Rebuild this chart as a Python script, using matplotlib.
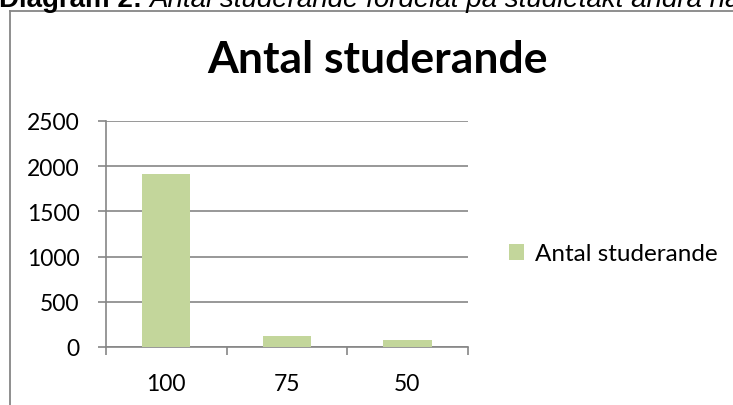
import matplotlib
matplotlib.use("Agg")
import matplotlib.pyplot as plt
from matplotlib.lines import Line2D
from matplotlib.patches import Patch

categories = ["100", "75", "50"]
values = [1910, 122, 77]
yticks = [0, 500, 1000, 1500, 2000, 2500]
title = "Antal studerande"
series_name = "Antal studerande"
header_bold = "Diagram 2:"
header_italic = "Antal studerande fördelat på studietakt andra halvåret"

W, H = 733, 406
fig = plt.figure(figsize=(W / 100, H / 100), dpi=100)
fig.patch.set_facecolor("white")

gray = "#868686"
green = "#c3d69b"
font = ["Lato", "DejaVu Sans"]

# chart area border (top and left visible)
fig.add_artist(Line2D([10 / W, 1.0], [1 - 12 / H, 1 - 12 / H], color=gray, lw=1.3, transform=fig.transFigure))
fig.add_artist(Line2D([10 / W, 10 / W], [0, 1 - 12 / H], color=gray, lw=1.3, transform=fig.transFigure))

# header text (clipped at top, as in the source)
base_y = 1 - 7 / H
t1 = fig.text(-1 / W, base_y, header_bold, fontsize=20, weight="bold",
              family="Liberation Sans", va="baseline", ha="left")
fig.canvas.draw()
bb = t1.get_window_extent(fig.canvas.get_renderer())
fig.text(bb.x1 / W + 7 / W, base_y, header_italic, fontsize=20, style="italic",
         family="Liberation Sans", va="baseline", ha="left")

ax = fig.add_axes([106 / W, 58 / H, 361.7 / W, 226 / H])
x = list(range(len(categories)))
ax.bar(x, values, width=0.4, color=green, zorder=3)
ax.set_xlim(-0.5, len(categories) - 0.5)
ax.set_ylim(0, 2500)
ax.set_yticks(yticks)
ax.set_yticklabels([str(v) for v in yticks], family=font, fontsize=16.5)
ax.yaxis.grid(True, color=gray, lw=1.2, zorder=0)
ax.set_xticks(x)
ax.set_xticklabels(categories, family=font, fontsize=16.5)
ax.set_xticks([i - 0.5 for i in range(len(categories) + 1)], minor=True)
ax.tick_params(axis="x", which="major", length=0, pad=19)
ax.tick_params(axis="x", which="minor", length=6, width=1.2, color=gray, direction="out")
ax.tick_params(axis="y", length=6, width=1.2, color=gray, pad=13)
for s in ["top", "right"]:
    ax.spines[s].set_visible(False)
for s in ["left", "bottom"]:
    ax.spines[s].set_color(gray)
    ax.spines[s].set_linewidth(1.2)

fig.text(377 / W, 1 - 60 / H, title, family=font, fontsize=32, weight="bold",
         ha="center", va="center")

handle = Patch(facecolor=green, edgecolor="none")
fig.legend([handle], [series_name], loc="center left", bbox_to_anchor=(509 / W, 1 - 255 / H),
           frameon=False, prop={"family": font, "size": 17.5}, handlelength=0.6,
           handleheight=0.6, handletextpad=0.45, borderpad=0, borderaxespad=0)

fig.savefig("out.png", dpi=100, facecolor="white")
